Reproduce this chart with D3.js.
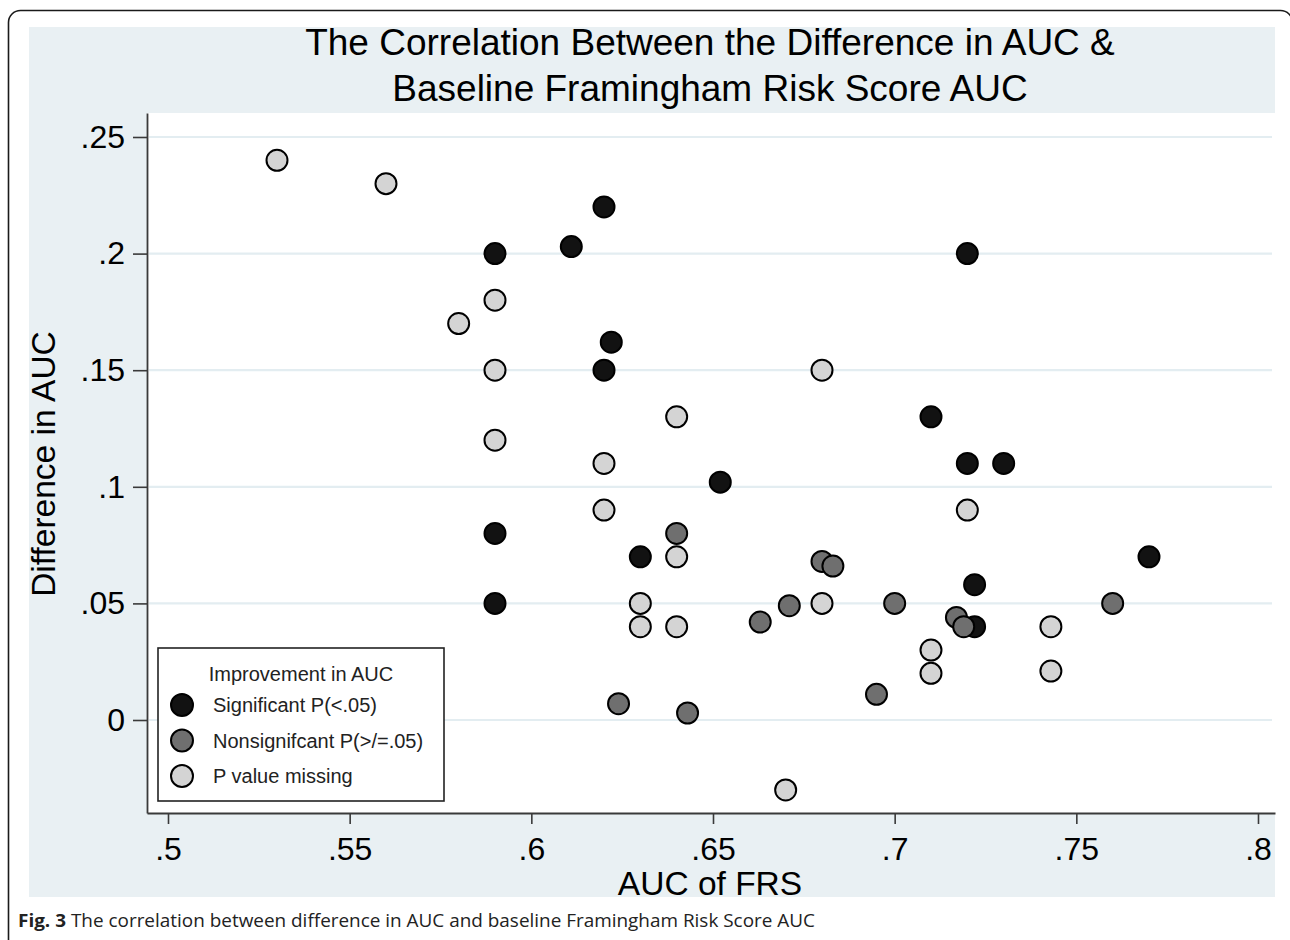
<!DOCTYPE html>
<html>
<head>
<meta charset="utf-8">
<script src="https://cdn.jsdelivr.net/npm/d3@7"></script>
<style>
	body { margin: 0; background: #fff; }
	svg { display: block; font-family: "Liberation Sans", Arial, sans-serif; }
</style>
</head>
<body>
<svg id="chart" width="1290" height="940"></svg>
<script>
// legend labels, same order as drawn
const groupNames = ["Significant P(<.05)", "Nonsignifcant P(>/=.05)", "P value missing"];
const groupColors = ["#121212", "#6f6f6f", "#d4d4d4"];

// significant
const sigAUC = [0.59, 0.611, 0.62, 0.622, 0.62, 0.59, 0.59, 0.63, 0.652, 0.72, 0.71, 0.72, 0.73, 0.722, 0.722, 0.77];
const sigDiff = [0.2, 0.203, 0.22, 0.162, 0.15, 0.08, 0.05, 0.07, 0.102, 0.2, 0.13, 0.11, 0.11, 0.058, 0.04, 0.07];
// nonsignificant
const nonsigAUC = [0.64, 0.68, 0.683, 0.671, 0.663, 0.7, 0.76, 0.624, 0.643, 0.695, 0.717, 0.719];
const nonsigDiff = [0.08, 0.068, 0.066, 0.049, 0.042, 0.05, 0.05, 0.007, 0.003, 0.011, 0.044, 0.04];
// p value missing
const missAUC = [0.53, 0.56, 0.59, 0.58, 0.59, 0.59, 0.62, 0.62, 0.64, 0.64, 0.63, 0.63, 0.64, 0.68, 0.68, 0.72, 0.71, 0.71, 0.743, 0.743, 0.67];
const missDiff = [0.24, 0.23, 0.18, 0.17, 0.15, 0.12, 0.11, 0.09, 0.13, 0.07, 0.05, 0.04, 0.04, 0.15, 0.05, 0.09, 0.03, 0.02, 0.04, 0.021, -0.03];

const xTicks = [0.5, 0.55, 0.6, 0.65, 0.7, 0.75, 0.8];
const yTicks = [0, 0.05, 0.1, 0.15, 0.2, 0.25];

const titleLines = ["The Correlation Between the Difference in AUC &", "Baseline Framingham Risk Score AUC"];
const xTitle = "AUC of FRS";
const yTitle = "Difference in AUC";
const legendTitle = "Improvement in AUC";

const series = [
	{ name: groupNames[0], color: groupColors[0], x: sigAUC, y: sigDiff },
	{ name: groupNames[1], color: groupColors[1], x: nonsigAUC, y: nonsigDiff },
	{ name: groupNames[2], color: groupColors[2], x: missAUC, y: missDiff },
];

const svg = d3.select("#chart");
const plot = { left: 147, right: 1275, top: 113, bottom: 813 };
const fmt = (d) => (d === 0 ? "0" : String(d).replace(/^0/, ""));

// outer frame + shaded graph region
svg.append("rect")
	.attr("x", 8.5).attr("y", 10.5)
	.attr("width", 1284).attr("height", 1000)
	.attr("rx", 12)
	.attr("fill", "#fff").attr("stroke", "#1a1a1a").attr("stroke-width", 1.6);
svg.append("rect")
	.attr("x", 29).attr("y", 27)
	.attr("width", 1246).attr("height", 870)
	.attr("fill", "#e9f0f3");
svg.append("rect")
	.attr("x", plot.left).attr("y", plot.top)
	.attr("width", plot.right - plot.left).attr("height", plot.bottom - plot.top)
	.attr("fill", "#fff");

const xScale = d3.scaleLinear().domain([0.49422, 0.80468]).range([plot.left, plot.right]);
const yScale = d3.scaleLinear().domain([-0.03988, 0.26029]).range([plot.bottom, plot.top]);

// grid
svg.append("g")
	.selectAll("line")
	.data(yTicks)
	.enter()
	.append("line")
	.attr("x1", plot.left + 2).attr("x2", plot.right - 3)
	.attr("y1", (d) => yScale(d)).attr("y2", (d) => yScale(d))
	.attr("stroke", "#e3edf1").attr("stroke-width", 2.2);

// axes
const xAxis = svg.append("g")
	.attr("transform", `translate(0, ${plot.bottom})`)
	.call(d3.axisBottom(xScale).tickValues(xTicks).tickFormat(fmt).tickSize(11).tickPadding(13).tickSizeOuter(0));
const yAxis = svg.append("g")
	.attr("transform", `translate(${plot.left}, 0)`)
	.call(d3.axisLeft(yScale).tickValues(yTicks).tickFormat(fmt).tickSize(14).tickPadding(8).tickSizeOuter(0));
[xAxis, yAxis].forEach((g) => {
	g.attr("font-family", null).attr("font-size", 32);
	g.selectAll("text").attr("fill", "#000");
	g.selectAll("line").attr("stroke", "#3a3a3a").attr("stroke-width", 1.6);
	g.select(".domain").attr("stroke", "#3a3a3a").attr("stroke-width", 1.8);
});

// titles
svg.append("g")
	.selectAll("text")
	.data(titleLines)
	.enter()
	.append("text")
	.attr("x", 710)
	.attr("y", (d, i) => 55 + i * 46)
	.attr("text-anchor", "middle")
	.attr("font-size", 37)
	.text((d) => d);
svg.append("text")
	.attr("x", 710).attr("y", 895)
	.attr("text-anchor", "middle")
	.attr("font-size", 33.5)
	.text(xTitle);
svg.append("text")
	.attr("transform", "translate(55, 464) rotate(-90)")
	.attr("text-anchor", "middle")
	.attr("font-size", 33.5)
	.text(yTitle);

// points
series.forEach((s) => {
	svg.append("g")
		.selectAll("circle")
		.data(s.x.map((v, i) => [v, s.y[i]]))
		.enter()
		.append("circle")
		.attr("cx", (d) => xScale(d[0]))
		.attr("cy", (d) => yScale(d[1]))
		.attr("r", 10.5)
		.attr("fill", s.color)
		.attr("stroke", "#000")
		.attr("stroke-width", 2);
});

// legend
const legend = svg.append("g").attr("transform", "translate(158, 648)");
legend.append("rect")
	.attr("width", 286).attr("height", 153)
	.attr("fill", "#fff").attr("stroke", "#222").attr("stroke-width", 1.6);
legend.append("text")
	.attr("x", 143).attr("y", 33)
	.attr("text-anchor", "middle")
	.attr("font-size", 20)
	.attr("fill", "#222")
	.text(legendTitle);
const items = legend.selectAll(".item")
	.data(series)
	.enter()
	.append("g")
	.attr("class", "item")
	.attr("transform", (d, i) => `translate(0, ${57 + i * 35.5})`);
items.append("circle")
	.attr("cx", 24).attr("r", 11)
	.attr("fill", (d) => d.color)
	.attr("stroke", "#000").attr("stroke-width", 2);
items.append("text")
	.attr("x", 55).attr("dy", "0.35em")
	.attr("font-size", 20)
	.attr("fill", "#222")
	.text((d) => d.name);

// caption
const cap = svg.append("text")
	.attr("x", 18).attr("y", 927)
	.attr("font-family", "'Open Sans', sans-serif")
	.attr("font-size", 18)
	.attr("textLength", 797)
	.attr("lengthAdjust", "spacingAndGlyphs")
	.attr("fill", "#222");
cap.append("tspan").attr("font-weight", "bold").text("Fig. 3");
cap.append("tspan").text(" The correlation between difference in AUC and baseline Framingham Risk Score AUC");
</script>
</body>
</html>
